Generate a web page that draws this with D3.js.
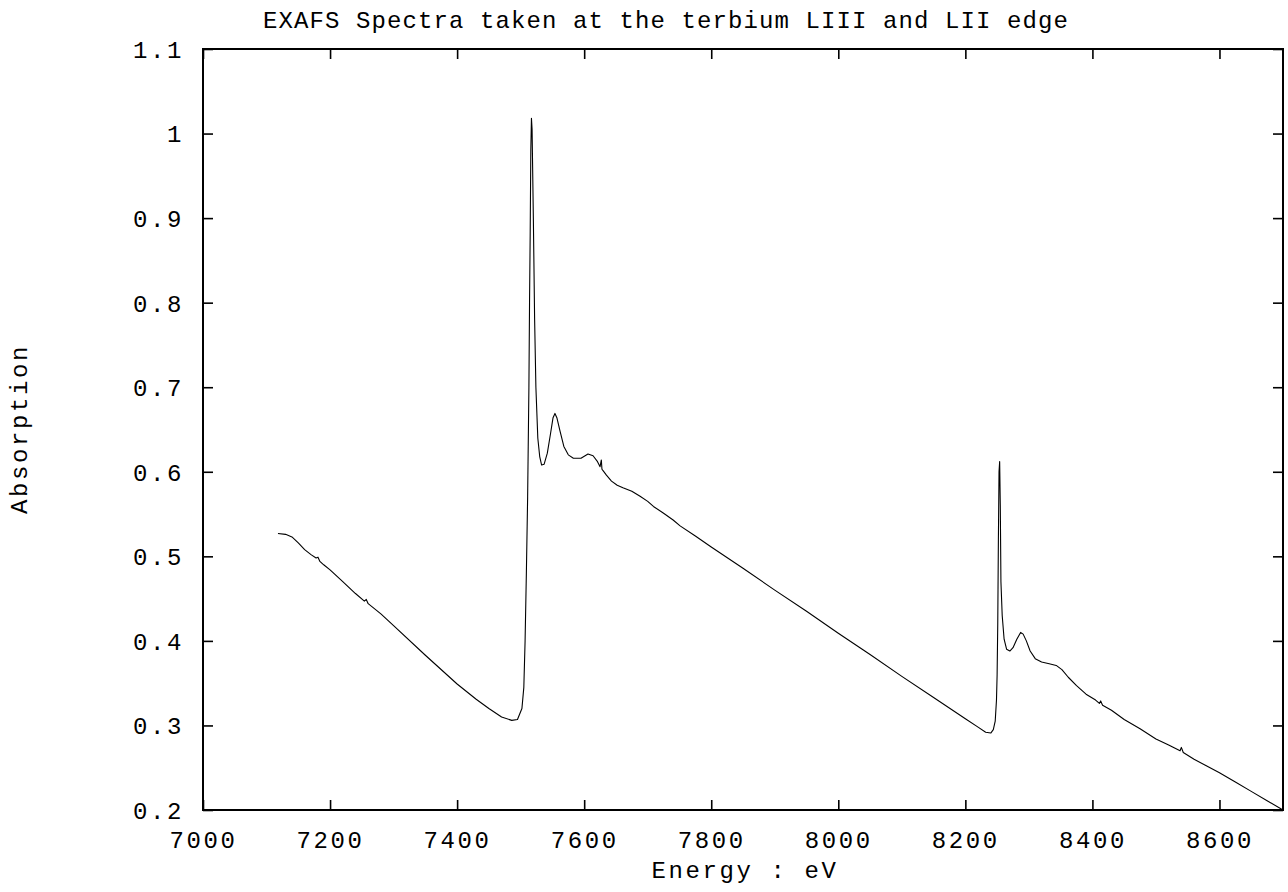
<!DOCTYPE html>
<html>
<head>
<meta charset="utf-8">
<script src="https://cdn.jsdelivr.net/npm/d3@7"></script>
<style>
  html, body { margin: 0; padding: 0; background: #fff; }
  svg text { font-family: "Courier New", Courier, "Liberation Mono", monospace; fill: #000; }
</style>
</head>
<body>
<svg id="chart" width="1288" height="892"></svg>
<script>
// Tb L-edge absorption spectrum (energy in eV, absorption)
const energy = [
  7118, 7130, 7140, 7150, 7160, 7170, 7178, 7181, 7184, 7190, 7200, 7220, 7240, 7254, 7257, 7260,
  7280, 7300, 7350, 7400, 7430, 7450, 7470, 7486, 7495, 7502, 7505, 7507, 7509, 7511, 7513, 7514,
  7515, 7516, 7517, 7518, 7520, 7522, 7524, 7527, 7530, 7533, 7537, 7542, 7547, 7551, 7554, 7557,
  7562, 7568, 7575, 7583, 7595, 7606, 7614, 7621, 7625, 7627, 7628, 7630, 7635, 7643, 7652, 7661,
  7675, 7688, 7700, 7709, 7725, 7740, 7751, 7775, 7800, 7850, 7900, 7950, 8000, 8050, 8100, 8150,
  8200, 8220, 8232, 8240, 8244, 8247, 8249, 8250, 8251, 8252, 8253, 8254, 8255, 8256, 8258, 8261,
  8265, 8270, 8275, 8281, 8287, 8291, 8296, 8302, 8310, 8320, 8332, 8343, 8352, 8362, 8375, 8390,
  8405, 8411, 8413, 8416, 8430, 8450, 8475, 8500, 8520, 8538, 8540, 8543, 8560, 8580, 8600, 8625,
  8650, 8675, 8700
];
const absorption = [
  0.527, 0.526, 0.523, 0.516, 0.508, 0.502, 0.498, 0.499, 0.494, 0.490, 0.484, 0.470, 0.456, 0.447, 0.449, 0.444,
  0.432, 0.418, 0.383, 0.349, 0.331, 0.320, 0.310, 0.306, 0.307, 0.320, 0.345, 0.400, 0.480, 0.570, 0.700, 0.800,
  0.880, 0.980, 1.018, 1.005, 0.900, 0.780, 0.700, 0.640, 0.618, 0.608, 0.609, 0.622, 0.645, 0.664, 0.669, 0.664,
  0.648, 0.630, 0.620, 0.616, 0.616, 0.621, 0.619, 0.612, 0.606, 0.614, 0.603, 0.601, 0.596, 0.589, 0.584, 0.581,
  0.577, 0.571, 0.565, 0.559, 0.551, 0.543, 0.536, 0.524, 0.511, 0.486, 0.460, 0.435, 0.409, 0.384, 0.358, 0.333,
  0.308, 0.298, 0.292, 0.291, 0.295, 0.305, 0.330, 0.360, 0.420, 0.520, 0.600, 0.612, 0.560, 0.470, 0.430, 0.402,
  0.390, 0.388, 0.392, 0.402, 0.410, 0.408, 0.400, 0.388, 0.379, 0.375, 0.373, 0.371, 0.366, 0.357, 0.347, 0.337,
  0.330, 0.326, 0.329, 0.324, 0.318, 0.307, 0.296, 0.284, 0.277, 0.270, 0.274, 0.268, 0.260, 0.252, 0.244, 0.233,
  0.222, 0.211, 0.200
];
const xTicks = [7000, 7200, 7400, 7600, 7800, 8000, 8200, 8400, 8600];
const yTicks = [0.2, 0.3, 0.4, 0.5, 0.6, 0.7, 0.8, 0.9, 1.0, 1.1];
const titleText = "EXAFS Spectra taken at the terbium LIII and LII edge";
const xLabel = "Energy : eV";
const yLabel = "Absorption";

const svg = d3.select("#chart");
const plot = { left: 203, right: 1283, top: 49, bottom: 810 };
const fontSize = 24;
const spacing = 2.6;
const fontStack = "\"Courier New\", Courier, \"Liberation Mono\", monospace";

const x = d3.scaleLinear().domain([7000, 8700]).range([plot.left, plot.right]);
const y = d3.scaleLinear().domain([0.2, 1.1]).range([plot.bottom, plot.top]);

const tickLen = 10;
const fmtY = v => (Math.abs(v - 1) < 1e-9 ? "1" : d3.format(".1f")(v));

// Bottom axis: labels outside, ticks pointing into the plot
const gx = svg.append("g").attr("transform", `translate(0,${plot.bottom})`)
  .call(d3.axisBottom(x).tickValues(xTicks).tickSize(-tickLen).tickFormat(d3.format("d")));
// Top mirror ticks
const gxt = svg.append("g").attr("transform", `translate(0,${plot.top})`)
  .call(d3.axisTop(x).tickValues(xTicks).tickSize(-tickLen).tickFormat(""));
// Left axis
const gy = svg.append("g").attr("transform", `translate(${plot.left},0)`)
  .call(d3.axisLeft(y).tickValues(yTicks).tickSize(-tickLen).tickFormat(fmtY));
// Right mirror ticks
const gyr = svg.append("g").attr("transform", `translate(${plot.right},0)`)
  .call(d3.axisRight(y).tickValues(yTicks).tickSize(-tickLen).tickFormat(""));

[gx, gxt, gy, gyr].forEach(g => {
  g.select(".domain").remove();
  g.selectAll(".tick line").attr("stroke", "#000").attr("stroke-width", 1.6);
  g.selectAll(".tick text")
    .attr("font-size", fontSize)
    .attr("letter-spacing", spacing)
    .attr("font-family", fontStack)
    .attr("fill", "#000");
});
gx.selectAll(".tick text").attr("dy", null).attr("y", 38);
gy.selectAll(".tick text").attr("dy", "0.35em").attr("x", -19);

// Plot frame
svg.append("rect")
  .attr("x", plot.left).attr("y", plot.top)
  .attr("width", plot.right - plot.left).attr("height", plot.bottom - plot.top)
  .attr("fill", "none").attr("stroke", "#000").attr("stroke-width", 2);

// Spectrum
const line = d3.line().x((d, i) => x(energy[i])).y(d => y(d));
svg.append("path")
  .datum(absorption)
  .attr("d", line)
  .attr("fill", "none")
  .attr("stroke", "#000")
  .attr("stroke-width", 1.1)
  .attr("stroke-linejoin", "round");

// Title and axis labels
svg.append("text").attr("x", 666).attr("y", 28)
  .attr("text-anchor", "middle").attr("font-size", fontSize).attr("letter-spacing", 1.1)
  .text(titleText);
svg.append("text").attr("x", 745).attr("y", 878)
  .attr("text-anchor", "middle").attr("font-size", fontSize).attr("letter-spacing", spacing)
  .text(xLabel);
svg.append("text").attr("transform", "translate(27,429) rotate(-90)")
  .attr("text-anchor", "middle").attr("font-size", fontSize).attr("letter-spacing", spacing)
  .text(yLabel);
</script>
</body>
</html>
